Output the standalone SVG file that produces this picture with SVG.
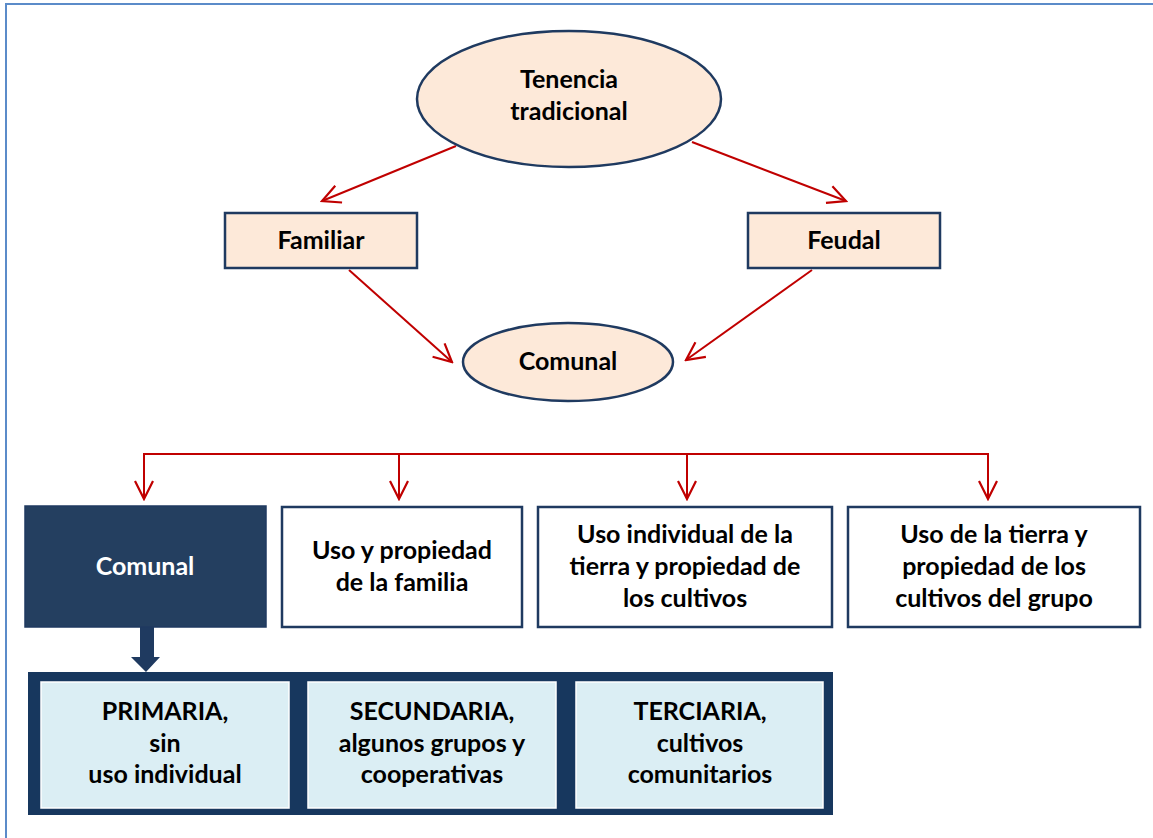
<svg xmlns="http://www.w3.org/2000/svg" width="1153" height="838" viewBox="0 0 1153 838">
  <defs>
    <marker id="open" viewBox="0 0 22 22" refX="20" refY="11" markerWidth="22" markerHeight="22" markerUnits="userSpaceOnUse" orient="auto">
      <path d="M2,2 L20,11 L2,20" fill="none" stroke="#C00000" stroke-width="2.2"/>
    </marker>
    <style>
      .t { font-family: Lato, "Open Sans", "Liberation Sans", sans-serif; font-weight: bold; font-size: 25px; fill: #000; text-anchor: middle; }
      .w { fill: #fff; }
      .peach { fill: #FDE9D9; stroke: #1F3A60; stroke-width: 2.5; }
      .plain { fill: #fff; stroke: #1F3A60; stroke-width: 2.5; }
      .inner { fill: #DBEEF4; stroke: #fff; stroke-width: 1.5; }
      .link { fill: none; stroke: #C00000; stroke-width: 2; marker-end: url(#open); }
    </style>
  </defs>
  <rect width="1153" height="838" fill="#fff"/>
  <!-- page frame -->
  <path d="M6,838 L6,4 L1153,4" fill="none" stroke="#5B8BC9" stroke-width="2"/>

  <g id="connectors">
    <line class="link" x1="456" y1="146" x2="322" y2="201"/>
    <line class="link" x1="692" y1="142" x2="846" y2="201"/>
    <line class="link" x1="349" y1="270" x2="452" y2="362"/>
    <line class="link" x1="812" y1="270" x2="686" y2="360"/>
    <path d="M144,499 L144,454 L988,454 L988,499" fill="none" stroke="#C00000" stroke-width="2"/>
    <line class="link" x1="144" y1="470" x2="144" y2="499"/>
    <line class="link" x1="399" y1="454" x2="399" y2="499"/>
    <line class="link" x1="687" y1="454" x2="687" y2="499"/>
    <line class="link" x1="988" y1="470" x2="988" y2="499"/>
    <!-- block arrow into the levels panel -->
    <path d="M140,627 L154,627 L154,657 L160,657 L146,672 L131,657 L140,657 Z" fill="#1F3A60"/>
  </g>

  <g id="tenencia">
    <ellipse class="peach" cx="569" cy="99" rx="152" ry="68"/>
    <text class="t" x="569" y="88">Tenencia</text>
    <text class="t" x="569" y="120">tradicional</text>
  </g>
  <g id="familiar">
    <rect class="peach" x="225" y="213" width="192" height="55"/>
    <text class="t" x="321" y="249">Familiar</text>
  </g>
  <g id="feudal">
    <rect class="peach" x="748" y="213" width="192" height="55"/>
    <text class="t" x="844" y="249">Feudal</text>
  </g>
  <g id="comunal-oval">
    <ellipse class="peach" cx="568" cy="362" rx="105" ry="39"/>
    <text class="t" x="568" y="370">Comunal</text>
  </g>

  <g id="comunal">
    <rect x="25" y="506" width="241" height="121" fill="#243F60" stroke="#1F3A60" stroke-width="1.5"/>
    <text class="t w" x="145" y="575">Comunal</text>
  </g>
  <g id="familia">
    <rect class="plain" x="282" y="507" width="240" height="120"/>
    <text class="t" x="402" y="559">Uso y propiedad</text>
    <text class="t" x="402" y="591">de la familia</text>
  </g>
  <g id="individual">
    <rect class="plain" x="538" y="507" width="294" height="120"/>
    <text class="t" x="685" y="543">Uso individual de la</text>
    <text class="t" x="685" y="575">tierra y propiedad de</text>
    <text class="t" x="685" y="607">los cultivos</text>
  </g>
  <g id="grupo">
    <rect class="plain" x="848" y="507" width="292" height="120"/>
    <text class="t" x="994" y="543">Uso de la tierra y</text>
    <text class="t" x="994" y="575">propiedad de los</text>
    <text class="t" x="994" y="607">cultivos del grupo</text>
  </g>

  <g id="niveles">
    <rect x="28" y="672" width="805" height="143" fill="#17375E"/>
    <g id="primaria">
      <rect class="inner" x="41" y="682" width="248" height="126"/>
      <text class="t" x="165" y="720">PRIMARIA,</text>
      <text class="t" x="165" y="752">sin</text>
      <text class="t" x="165" y="783">uso individual</text>
    </g>
    <g id="secundaria">
      <rect class="inner" x="308" y="682" width="248" height="126"/>
      <text class="t" x="432" y="720">SECUNDARIA,</text>
      <text class="t" x="432" y="752">algunos grupos y</text>
      <text class="t" x="432" y="783">cooperativas</text>
    </g>
    <g id="terciaria">
      <rect class="inner" x="576" y="682" width="247" height="126"/>
      <text class="t" x="700" y="720">TERCIARIA,</text>
      <text class="t" x="700" y="752">cultivos</text>
      <text class="t" x="700" y="783">comunitarios</text>
    </g>
  </g>
</svg>
